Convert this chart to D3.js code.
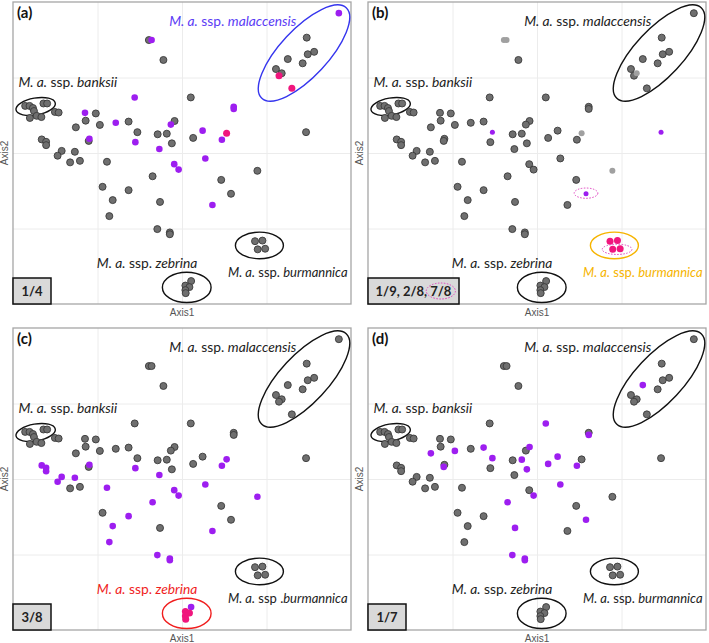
<!DOCTYPE html>
<html>
<head>
<meta charset="utf-8">
<script src="https://cdn.jsdelivr.net/npm/d3@7"></script>
<style>
  body { margin: 0; background: #fff; }
  svg { display: block; }
</style>
</head>
<body>
<svg id="fig"></svg>
<script>
// ordination scores of every sample (identical in the four panels)
const sampleIds = ["P1","P2","P3","P4","P5","P6","P7","P8","P9","P10","P11","P12","P13","P14","P15",
  "B1","B2","B3","B4","B5","B6","B7","B8","B9","B10","B11",
  "P16","P17","P18","P19","P20","P21","P22","P23","P24","P25","P26","P27","P28","P29","P30",
  "P31","P32","P33","P34","P35","P36","P37","P38","P39","P40","P41","P42","P43","P44","P45",
  "P46","P47","P48","P49","P50","P51","P52","P53","P54","P55","P56","P57","P58","P59","P60",
  "P61","P62","P63","P64","R1","R2","R3","R4","Z1","Z2","Z3","Z4","Z5"];
const axis1 = [40.2,41.0,44.5,86.9,87.2,89.1,81.3,85.7,77.8,79.5,78.7,82.5,96.4,52.6,86.7,
  3.6,4.9,5.9,6.2,9.0,10.1,5.0,7.0,8.4,12.4,13.5,
  21.3,24.5,21.5,18.6,25.7,30.4,36.0,34.2,36.8,36.2,22.6,22.4,8.5,9.8,9.8,
  14.4,18.3,13.2,16.9,19.8,27.8,26.5,34.2,29.5,28.5,43.3,42.8,45.5,47.0,47.8,
  46.7,41.3,47.7,49.0,43.5,53.3,56.1,56.9,61.8,63.2,65.3,65.3,61.6,64.5,59.0,
  72.3,42.7,46.4,46.4,71.6,73.8,72.4,74.6,52.7,51.0,52.2,51.0,51.1];
const axis2 = [87.4,87.4,80.8,88.2,82.7,83.5,81.1,79.7,77.8,76.4,75.6,71.4,96.3,68.4,56.9,
  65.6,65.6,64.9,63.9,66.4,66.4,61.6,62.3,61.9,63.6,63.4,
  63.3,63.1,60.7,58.5,59.3,60.0,68.4,60.4,56.9,53.6,54.7,54.0,54.5,53.7,52.6,
  50.7,50.4,49.1,46.9,47.4,47.1,38.8,37.7,34.4,29.1,51.3,56.2,56.4,53.2,60.6,
  59.4,42.3,46.3,44.5,33.8,55.0,57.4,48.2,54.4,56.5,65.3,64.6,41.1,36.5,32.8,
  44.1,24.8,23.7,23.1,20.8,21.0,18.1,18.3,7.6,6.1,5.6,4.6,3.6];

// samples carrying the allele, per panel
const purpleA = ["P2","P13","P16","P21","P22","P25","P26","P41","P46","P48","P49","P52","P53","P54","P56","P57","P60"];
const pinkA = ["P11","P12","P55"];
const purpleB = ["P24","P15","P59"];
const pinkB = ["R1","R2","R3","R4"];
const paleB = ["P1","P2","P10","P55","P61"];
const purpleC = ["P28","P29","P30","P31","P32","P33","P26","P25","P36","P41","P48","P49","P47","P38","P39",
  "P40","P62","P63","P64","P53","P60","P61","P54","P55","Z1"];
const pinkC = ["Z2","Z3","Z4","Z5"];
const purpleD = ["P7","P14","P57","P19","P20","P23","P24","P27","P45","P43","P44","P51","P52","P54","P53",
  "P49","P47","P50","P59","P62","P63","P64"];

const panelLetters = ["(a)", "(b)", "(c)", "(d)"];
const ratioLabels = ["1/4", "1/9, 2/8, 7/8", "3/8", "1/7"];
const groupNames = ["malaccensis", "banksii", "zebrina", "burmannica"];

const width = 709, height = 643;
const panelW = 338, panelH = 302;
const panelPos = [[13, 2], [368, 2], [13, 328], [368, 328]];

const GREY = "#6f6f6f", PURPLE = "#9d1ef0", PINK = "#f0167d";

const svg = d3.select("#fig").attr("width", width).attr("height", height);

const x = d3.scaleLinear().domain([0, 100]).range([0, panelW]);
const y = d3.scaleLinear().domain([0, 100]).range([panelH, 0]);

const samples = sampleIds.map((id, i) => ({ id: id, a1: axis1[i], a2: axis2[i] }));

// ellipse + label layout for each subspecies group
const rings = {
  malaccensis: { cx: 86.1, cy: 83.1, rx: 18.3, ry: 7.9, rot: -47, lx: 46.2, ly: 92.1 },
  banksii:     { cx: 6.7,  cy: 65.4, rx: 5.9,  ry: 2.8, rot: -10, lx: 1.6,  ly: 71.9 },
  zebrina:     { cx: 51.4, cy: 5.5,  rx: 7.2,  ry: 5.0, rot: 0,   lx: 24.8, ly: 11.8 },
  burmannica:  { cx: 72.9, cy: 19.4, rx: 7.1,  ry: 4.4, rot: 0,   lx: 63.6, ly: 9.0 }
};

const panels = [
  { purple: purpleA, pink: pinkA, pale: [], small: false,
    colors: { malaccensis: ["#5b3df5", "#3535ee"] } },
  { purple: purpleB, pink: pinkB, pale: paleB, small: true,
    colors: { burmannica: ["#f6b400", "#f6b400"] },
    dotted: [[73.7, 18.1, 4.4, 1.7], [64.5, 36.7, 3.5, 1.7]] },
  { purple: purpleC, pink: pinkC, pale: [], small: false,
    colors: { zebrina: ["#f01e1e", "#f01e1e"] }, sspDot: true },
  { purple: purpleD, pink: [], pale: [], small: false, colors: {} }
];

panels.forEach(function(p, k) {
  const g = svg.append("g")
    .attr("transform", "translate(" + panelPos[k][0] + "," + panelPos[k][1] + ")");

  // light grid
  g.append("g")
    .attr("transform", "translate(0," + panelH + ")")
    .call(d3.axisBottom(x).tickValues([25, 50, 75]).tickSize(-panelH).tickFormat(""))
    .call(a => a.select(".domain").remove())
    .call(a => a.selectAll("line").attr("stroke", "#ececec"));
  g.append("g")
    .call(d3.axisLeft(y).tickValues([25, 50, 75]).tickSize(-panelW).tickFormat(""))
    .call(a => a.select(".domain").remove())
    .call(a => a.selectAll("line").attr("stroke", "#ececec"));

  g.append("rect")
    .attr("width", panelW).attr("height", panelH)
    .attr("fill", "none").attr("stroke", "#a6a6a6").attr("stroke-width", 1.3);

  // group ellipses
  groupNames.forEach(function(name) {
    const r = rings[name];
    const col = p.colors[name] ? p.colors[name][1] : "#111";
    g.append("ellipse")
      .attr("transform", "translate(" + x(r.cx) + "," + y(r.cy) + ") rotate(" + r.rot + ")")
      .attr("rx", x(r.rx) - x(0)).attr("ry", y(0) - y(r.ry))
      .attr("fill", "none").attr("stroke", col).attr("stroke-width", 1.4);
  });

  // points: grey first, highlighted on top
  const special = new Set(p.purple.concat(p.pink, p.pale));
  const kind = d => p.pink.includes(d.id) ? "pink" : p.purple.includes(d.id) ? "purple" :
    p.pale.includes(d.id) ? "pale" : "grey";
  const ordered = samples.filter(d => !special.has(d.id))
    .concat(samples.filter(d => p.pale.includes(d.id)))
    .concat(samples.filter(d => p.purple.includes(d.id)))
    .concat(samples.filter(d => p.pink.includes(d.id)));

  g.selectAll("circle.pt")
    .data(ordered)
    .enter()
    .append("circle")
    .attr("class", "pt")
    .attr("cx", d => x(d.a1))
    .attr("cy", d => y(d.a2))
    .attr("r", d => {
      const t = kind(d);
      if (t === "purple") return p.small ? 2.5 : 3.3;
      if (t === "pale") return 3.0;
      return 3.5;
    })
    .attr("fill", d => ({ grey: GREY, purple: PURPLE, pink: PINK, pale: "#a0a0a0" })[kind(d)])
    .attr("stroke", d => kind(d) === "grey" ? "#3a3a3a" : "none")
    .attr("stroke-width", 0.9);

  // dotted pink rings (panel b)
  (p.dotted || []).forEach(function(e) {
    g.append("ellipse")
      .attr("cx", x(e[0])).attr("cy", y(e[1]))
      .attr("rx", x(e[2]) - x(0)).attr("ry", y(0) - y(e[3]))
      .attr("fill", "none").attr("stroke", "#e040c0")
      .attr("stroke-width", 1).attr("stroke-dasharray", "1.5,1.5");
  });

  // group labels
  groupNames.forEach(function(name) {
    const r = rings[name];
    const col = p.colors[name] ? p.colors[name][0] : "#222";
    const t = g.append("text")
      .attr("x", x(r.lx)).attr("y", y(r.ly))
      .attr("font-family", "Lato, 'Open Sans', sans-serif")
      .attr("font-size", name === "burmannica" ? 13 : 13.8).attr("fill", col);
    t.append("tspan").attr("font-style", "italic").text("M. a.");
    t.append("tspan").text(p.sspDot && name === "burmannica" ? " ssp ." : " ssp. ");
    t.append("tspan").attr("font-style", "italic").text(name);
  });

  // panel letter
  g.append("text")
    .attr("x", 4).attr("y", 16)
    .attr("font-family", "Lato, 'Open Sans', sans-serif")
    .attr("font-weight", "bold").attr("font-size", 15).attr("fill", "#111")
    .text(panelLetters[k]);

  // ratio box
  const boxW = k === 1 ? 91 : 38, boxH = 26;
  g.append("rect")
    .attr("x", 0).attr("y", panelH - boxH)
    .attr("width", boxW).attr("height", boxH)
    .attr("fill", "#d9d9d9").attr("stroke", "#111").attr("stroke-width", 1.5);
  const parts = ratioLabels[k].split(", ");
  const bt = g.append("text")
    .attr("y", panelH - 8.5)
    .attr("font-family", "Lato, 'Open Sans', sans-serif")
    .attr("font-weight", "bold").attr("font-size", 13).attr("fill", "#222");
  const spans = parts.map((s, i) => bt.append("tspan").text(s + (i < parts.length - 1 ? ", " : "")));
  const tw = bt.node().getComputedTextLength();
  bt.attr("x", boxW / 2 - tw / 2);
  if (k === 1) {
    const before = spans.slice(0, -1).reduce((s, sp) => s + sp.node().getComputedTextLength(), 0);
    const lastW = spans[spans.length - 1].node().getComputedTextLength();
    g.append("ellipse")
      .attr("cx", boxW / 2 - tw / 2 + before + lastW / 2).attr("cy", panelH - 13)
      .attr("rx", lastW / 2 + 4).attr("ry", 8)
      .attr("fill", "none").attr("stroke", "#e040c0")
      .attr("stroke-width", 1).attr("stroke-dasharray", "1.5,1.5");
  }

  // axis titles
  g.append("text")
    .attr("x", panelW / 2).attr("y", panelH + 12)
    .attr("text-anchor", "middle")
    .attr("font-family", "'Liberation Sans', Arial, sans-serif")
    .attr("font-size", 10).attr("fill", "#555")
    .text("Axis1");
  g.append("text")
    .attr("transform", "translate(-5," + panelH / 2 + ") rotate(-90)")
    .attr("text-anchor", "middle")
    .attr("font-family", "'Liberation Sans', Arial, sans-serif")
    .attr("font-size", 10).attr("fill", "#555")
    .text("Axis2");
});
</script>
</body>
</html>
